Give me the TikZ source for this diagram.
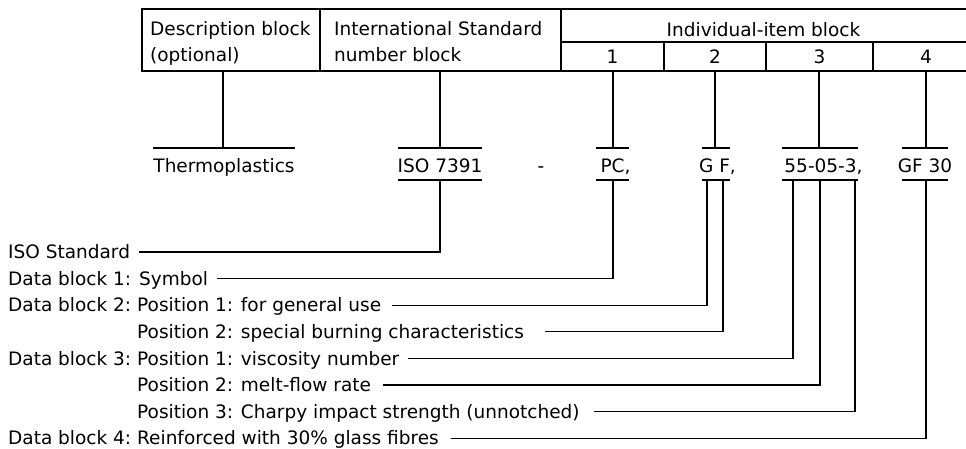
\documentclass[tikz,border=0pt]{standalone}
\usepackage{fontspec}
\setmainfont{DejaVu Sans}
\newcommand{\lblfont}{\fontsize{18.5}{26}\selectfont}
\tikzset{
  ln/.style={line width=1.3pt},
  tx/.style={inner sep=0pt, text height=13.5pt, text depth=0pt, font=\lblfont},
  code/.style={inner sep=0pt, text height=24pt, text depth=8pt, font=\lblfont, anchor=base},
  cellbox/.style={inner sep=0pt, draw=none},
}
\begin{document}
\begin{tikzpicture}[x=1pt,y=-1pt]
\useasboundingbox (0,0) rectangle (966,448);
% ---------- table ----------
\node[cellbox, minimum width=178pt, minimum height=62pt] (desc) at (231,40) {};
\node[cellbox, minimum width=241pt, minimum height=62pt] (intl) at (440.5,40) {};
\node[cellbox, minimum width=103pt, minimum height=29pt] (k1) at (613,56.5) {};
\node[cellbox, minimum width=102pt, minimum height=29pt] (k2) at (715,56.5) {};
\node[cellbox, minimum width=107pt, minimum height=29pt] (k3) at (819,56.5) {};
\node[cellbox, minimum width=106pt, minimum height=29pt] (k4) at (926,56.5) {};
\draw[ln] (966,9) -- (142,9) -- (142,71) -- (966,71);
\draw[ln] (561,42) -- (966,42);
\draw[ln] (320,9) -- (320,71);
\draw[ln] (561,9) -- (561,71);
\draw[ln] (664,42) -- (664,71);
\draw[ln] (766,42) -- (766,71);
\draw[ln] (873,42) -- (873,71);
\node[tx, anchor=base west] (descA) at (150,35) {Description block};
\node[tx, anchor=base west] (descB) at (150,61) {(optional)};
\node[tx, anchor=base west] (intA) at (334,35) {International Standard};
\node[tx, anchor=base west] (intB) at (334,61) {number block};
\node[tx, anchor=base] (indiv) at (763.5,36) {Individual-item block};
\node[tx, anchor=base] (n1) at (612.5,63) {1};
\node[tx, anchor=base] (n2) at (715,63) {2};
\node[tx, anchor=base] (n3) at (819.5,63) {3};
\node[tx, anchor=base] (n4) at (926,63) {4};
% ---------- designation ----------
\node[code] (thermo) at (224,172) {Thermoplastics};
\node[code] (iso) at (440,172) {ISO 7391};
\node[code] (dash) at (541,172) {-};
\node[code] (pc) at (615.5,172) {PC,};
\node[code] (gf) at (717.5,172) {G F,};
\node[code] (nn) at (823.5,172) {55-05-3,};
\node[code] (gfx) at (925,172) {GF 30};
% bars
\draw[ln] (153,148) -- (295,148);
\draw[ln] (398,148) -- (482,148);  \draw[ln] (398,180) -- (482,180);
\draw[ln] (596,148) -- (629,148);  \draw[ln] (596,180) -- (629,180);
\draw[ln] (702,148) -- (730,148);  \draw[ln] (702,180) -- (730,180);
\draw[ln] (782,148) -- (858,148);  \draw[ln] (782,180) -- (858,180);
\draw[ln] (902,148) -- (948,148);  \draw[ln] (902,180) -- (948,180);
% upper connectors
\draw[ln] (desc.south -| 223,0) -- (223,148);
\draw[ln] (iso.north |- intl.south) -- (iso.north);
\draw[ln] (k1.south) -- (k1.south |- pc.north);
\draw[ln] (k2.south) -- (k2.south |- gf.north);
\draw[ln] (k3.south) -- (k3.south |- nn.north);
\draw[ln] (k4.south) -- (k4.south |- gfx.north);
% ---------- labels ----------
\node[tx, anchor=west] (L0) at (8,252) {ISO Standard};
\node[tx, anchor=west] (L1) at (8,278.6) {Data block 1: Symbol};
\node[tx, anchor=west] (P2) at (8,305.2) {Data block 2:};
\node[tx, anchor=west] (Q2a) at (137,305.2) {Position 1: for general use};
\node[tx, anchor=west] (Q2b) at (137,331.8) {Position 2: special burning characteristics};
\node[tx, anchor=west] (P3) at (8,358.4) {Data block 3:};
\node[tx, anchor=west] (Q3a) at (137,358.4) {Position 1: viscosity number};
\node[tx, anchor=west] (Q3b) at (137,385) {Position 2: melt-flow rate};
\node[tx, anchor=west] (Q3c) at (137,411.6) {Position 3: Charpy impact strength (unnotched)};
\node[tx, anchor=west] (P4) at (8,438.2) {Data block 4:};
\node[tx, anchor=west] (Q4) at (137,438.2) {Reinforced with 30\% glass fibres};
% lower connectors
\coordinate (b0) at (440,180);
\coordinate (b1) at (613,180);
\coordinate (b2) at (707,180);
\coordinate (b3) at (723,180);
\coordinate (b4) at (793,180);
\coordinate (b5) at (820,180);
\coordinate (b6) at (855,180);
\coordinate (b7) at (926,180);
\draw[ln] ([xshift=9pt]L0.east) -| (b0);
\draw[ln] ([xshift=9pt]L1.east) -| (b1);
\draw[ln] ([xshift=11pt]Q2a.east) -| (b2);
\draw[ln] ([xshift=21pt]Q2b.east) -| (b3);
\draw[ln] ([xshift=9pt]Q3a.east) -| (b4);
\draw[ln] ([xshift=12pt]Q3b.east) -| (b5);
\draw[ln] ([xshift=14pt]Q3c.east) -| (b6);
\draw[ln] ([xshift=12pt]Q4.east) -| (b7);
\end{tikzpicture}
\end{document}
